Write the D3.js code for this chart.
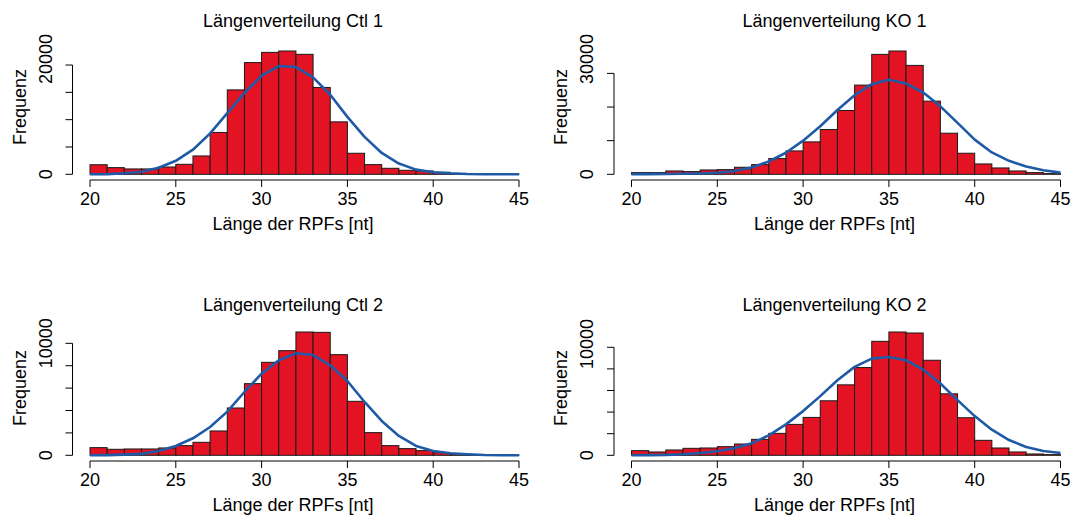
<!DOCTYPE html>
<html>
<head>
<meta charset="utf-8">
<script src="https://cdn.jsdelivr.net/npm/d3@7"></script>
<style>
  body { margin: 0; background: #fff; }
  text { font-family: "Liberation Sans", Arial, sans-serif; fill: #000; }
</style>
</head>
<body>
<script>
// bin starts (each bin is 1 nt wide) and points of the fitted curve
const lengths = [20, 21, 22, 23, 24, 25, 26, 27, 28, 29, 30, 31, 32, 33, 34, 35, 36, 37, 38, 39, 40, 41, 42, 43, 44];
const fitLengths = [20, 21, 22, 23, 24, 25, 26, 27, 28, 29, 30, 31, 32, 33, 34, 35, 36, 37, 38, 39, 40, 41, 42, 43, 44, 45];
const xTicks = [20, 25, 30, 35, 40, 45];

const titles = ['Längenverteilung Ctl 1', 'Längenverteilung KO 1', 'Längenverteilung Ctl 2', 'Längenverteilung KO 2'];

const ctl1Counts = [1750, 1220, 980, 980, 1340, 1830, 3360, 7660, 15450, 20450, 22320, 22570, 21960, 15900, 9600, 3850, 1770, 1100, 730, 610, 370, 120, 40, 20, 10];
const ko1Counts = [500, 500, 990, 800, 1290, 1390, 2090, 2880, 4670, 6950, 9640, 13310, 18970, 26520, 35660, 36660, 32380, 21750, 12220, 6260, 3080, 1890, 990, 500, 200];
const ctl2Counts = [685, 536, 565, 565, 655, 863, 1161, 2173, 4226, 6399, 8304, 9345, 11012, 10982, 8988, 4821, 2024, 863, 595, 417, 238, 119, 60, 20, 10];
const ko2Counts = [431, 308, 492, 646, 677, 800, 1046, 1477, 2031, 2862, 3508, 5046, 6523, 8123, 10554, 11415, 11323, 8800, 5692, 3477, 1385, 677, 308, 123, 62];

const ctl1Fit = [0, 30, 180, 480, 1210, 2470, 4500, 7500, 11200, 14900, 18050, 19820, 19630, 17740, 14560, 10520, 6850, 3910, 1960, 860, 370, 180, 60, 20, 5, 0];
const ko1Fit = [30, 50, 90, 150, 250, 450, 980, 2000, 3800, 6400, 10000, 14300, 19100, 23500, 26800, 28100, 27000, 24300, 20200, 15300, 10300, 6500, 4000, 2300, 1200, 500];
const ctl2Fit = [0, 20, 60, 130, 387, 833, 1518, 2530, 3899, 5655, 7292, 8482, 9107, 8958, 8036, 6637, 4762, 3065, 1726, 833, 387, 179, 89, 30, 10, 0];
const ko2Fit = [0, 20, 40, 100, 215, 369, 646, 1108, 1846, 2862, 4092, 5477, 6954, 8185, 8954, 9108, 8800, 7938, 6646, 5108, 3631, 2369, 1415, 769, 400, 215];

const ctl1Ticks = [0, 5000, 10000, 15000, 20000];
const ko1Ticks = [0, 10000, 20000, 30000];
const ctl2Ticks = [0, 2000, 4000, 6000, 8000, 10000];
const ko2Ticks = [0, 2000, 4000, 6000, 8000, 10000];

const ctl1Labels = [0, 20000];
const ko1Labels = [0, 30000];
const ctl2Labels = [0, 10000];
const ko2Labels = [0, 10000];

const panels = [
  { title: titles[0], counts: ctl1Counts, fit: ctl1Fit, ticks: ctl1Ticks, labels: ctl1Labels, col: 0, row: 0 },
  { title: titles[1], counts: ko1Counts, fit: ko1Fit, ticks: ko1Ticks, labels: ko1Labels, col: 1, row: 0 },
  { title: titles[2], counts: ctl2Counts, fit: ctl2Fit, ticks: ctl2Ticks, labels: ctl2Labels, col: 0, row: 1 },
  { title: titles[3], counts: ko2Counts, fit: ko2Fit, ticks: ko2Ticks, labels: ko2Labels, col: 1, row: 1 },
];

const width = 1071;
const height = 525;
const colOffset = 541.5;
const rowOffset = 281;
const fontSize = 18;
const barColor = '#e31323';
const lineColor = '#1f5aa6';
// top limit for the rotated y labels, per row
const labelTop = [59, 63];
const titleY = [27, 29.5];

const svg = d3.select('body').append('svg')
  .attr('width', width)
  .attr('height', height);

function drawPanel(p) {
  const ox = p.col * colOffset;
  const oy = p.row * rowOffset;
  const g = svg.append('g').attr('transform', `translate(${ox},${oy})`);

  const x = d3.scaleLinear().domain([20, 45]).range([90, 519]);
  const y = d3.scaleLinear().domain([0, d3.max(p.counts)]).range([174.3, 51]);
  const axisX = 72.5;
  const axisY = 180;

  // bars
  g.append('g')
    .selectAll('rect')
    .data(p.counts)
    .enter()
    .append('rect')
    .attr('x', (d, i) => x(lengths[i]))
    .attr('y', (d) => y(d))
    .attr('width', (d, i) => x(lengths[i] + 1) - x(lengths[i]))
    .attr('height', (d) => y(0) - y(d))
    .attr('fill', barColor)
    .attr('stroke', '#1a1a1a')
    .attr('stroke-width', 1);

  // fitted curve
  const line = d3.line()
    .x((d, i) => x(fitLengths[i]))
    .y((d) => y(d));
  g.append('path')
    .datum(p.fit)
    .attr('d', line)
    .attr('fill', 'none')
    .attr('stroke', lineColor)
    .attr('stroke-width', 2.6)
    .attr('stroke-linejoin', 'round');

  // x axis (R style, detached below the bars)
  const xa = g.append('g');
  xa.append('line')
    .attr('x1', x(20)).attr('x2', x(45))
    .attr('y1', axisY).attr('y2', axisY)
    .attr('stroke', '#000');
  xa.selectAll('line.tick')
    .data(xTicks)
    .enter()
    .append('line')
    .attr('class', 'tick')
    .attr('x1', (d) => x(d)).attr('x2', (d) => x(d))
    .attr('y1', axisY).attr('y2', axisY + 7)
    .attr('stroke', '#000');
  xa.selectAll('text')
    .data(xTicks)
    .enter()
    .append('text')
    .attr('x', (d) => x(d))
    .attr('y', 205)
    .attr('text-anchor', 'middle')
    .attr('font-size', fontSize)
    .text((d) => d);

  // y axis
  const ya = g.append('g');
  ya.append('line')
    .attr('x1', axisX).attr('x2', axisX)
    .attr('y1', y(0)).attr('y2', y(d3.max(p.ticks)))
    .attr('stroke', '#000');
  ya.selectAll('line.tick')
    .data(p.ticks)
    .enter()
    .append('line')
    .attr('class', 'tick')
    .attr('x1', axisX - 7).attr('x2', axisX)
    .attr('y1', (d) => y(d)).attr('y2', (d) => y(d))
    .attr('stroke', '#000');
  ya.selectAll('text')
    .data(p.labels)
    .enter()
    .append('text')
    .attr('transform', (d) => `translate(${axisX - 27},${d === 0 ? y(d) : Math.min(y(d), labelTop[p.row])}) rotate(-90)`)
    .attr('text-anchor', 'middle')
    .attr('dy', '0.35em')
    .attr('font-size', fontSize)
    .text((d) => d);

  // labels
  g.append('text')
    .attr('x', 293)
    .attr('y', titleY[p.row])
    .attr('text-anchor', 'middle')
    .attr('font-size', fontSize)
    .text(p.title);
  g.append('text')
    .attr('x', 293)
    .attr('y', 230)
    .attr('text-anchor', 'middle')
    .attr('font-size', fontSize)
    .text('Länge der RPFs [nt]');
  g.append('text')
    .attr('transform', `translate(${axisX - 53},107) rotate(-90)`)
    .attr('text-anchor', 'middle')
    .attr('dy', '0.35em')
    .attr('font-size', fontSize)
    .text('Frequenz');
}

panels.forEach(drawPanel);
</script>
</body>
</html>
